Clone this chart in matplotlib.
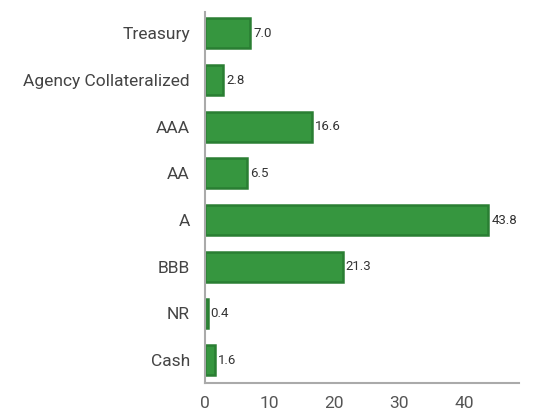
import matplotlib
matplotlib.use("Agg")
import matplotlib.pyplot as plt

categories = ["Treasury", "Agency Collateralized", "AAA", "AA", "A", "BBB", "NR", "Cash"]
values = [7.0, 2.8, 16.6, 6.5, 43.8, 21.3, 0.4, 1.6]
xticks = [0, 10, 20, 30, 40]

plt.rcParams["font.family"] = ["Roboto", "DejaVu Sans"]

fig = plt.figure(figsize=(5.37, 4.17), dpi=100)
ax = fig.add_axes([0.382, 0.0815, 0.584, 0.889])

pos = list(range(len(categories)))
ax.barh(pos, values, height=0.64, color="#36963f", edgecolor="#2a7e33", linewidth=1.8)
for p, v in zip(pos, values):
    ax.text(v + 0.45, p, f"{v:.1f}", va="center", ha="left", fontsize=9.5, color="#333333")

ax.set_yticks(pos)
ax.set_yticklabels(categories, fontsize=12.5, color="#444444")
ax.set_xticks(xticks)
ax.set_xticklabels([str(t) for t in xticks], fontsize=12.5, color="#555555")
ax.set_xlim(0, 48.5)
ax.set_ylim(7.49, -0.45)
ax.tick_params(axis="y", length=0, pad=11)
ax.tick_params(axis="x", length=0, pad=9)
for s in ("top", "right"):
    ax.spines[s].set_visible(False)
for s in ("left", "bottom"):
    ax.spines[s].set_color("#aaaaaa")
    ax.spines[s].set_linewidth(1.5)

fig.savefig("out.png", dpi=100)
